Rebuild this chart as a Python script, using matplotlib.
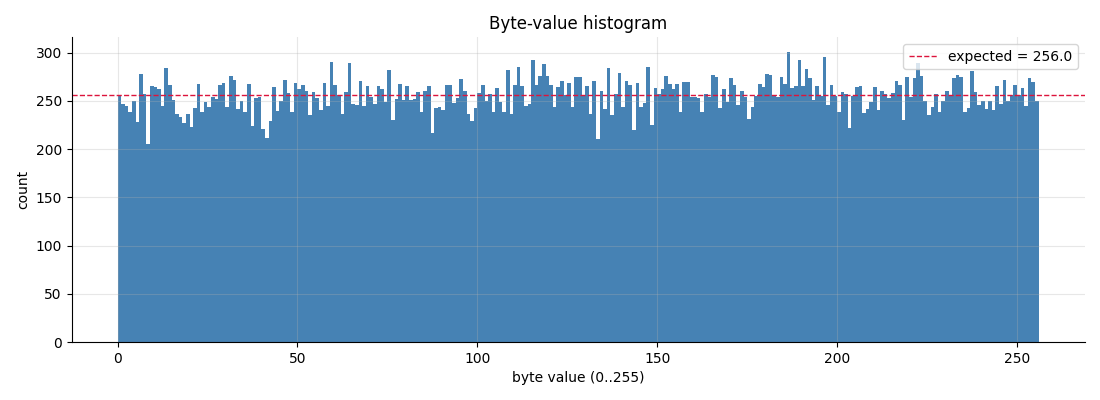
import matplotlib
matplotlib.use("Agg")
import matplotlib.pyplot as plt
import numpy as np

byte_values = list(range(256))
counts = [
    256,247,245,239,250,228,278,257,205,265,264,262,245,284,266,251,
    236,233,227,236,223,243,268,238,249,244,254,252,266,269,244,276,
    272,242,250,238,268,224,253,254,221,212,229,264,240,250,272,258,
    238,269,262,266,260,235,259,253,241,269,245,290,267,256,236,259,
    289,247,246,271,245,265,254,247,265,262,249,282,230,252,268,251,
    265,251,252,259,239,260,265,217,243,244,241,266,266,248,253,273,
    260,236,229,243,258,267,250,257,238,263,249,239,282,236,267,285,
    265,245,247,292,267,276,288,276,267,244,264,271,256,269,244,275,
    275,256,265,236,271,211,260,242,284,235,257,279,244,271,266,220,
    269,244,248,285,225,263,257,262,276,268,262,268,238,270,270,254,
    254,253,238,257,254,277,275,243,262,249,274,266,246,260,254,231,
    244,255,268,264,278,277,256,254,275,268,301,263,265,292,265,283,
    274,251,265,255,296,246,267,255,238,259,257,222,255,264,265,237,
    242,249,264,241,260,257,253,258,271,266,230,275,254,274,289,276,
    250,235,244,257,238,250,260,256,274,277,275,238,243,281,259,246,
    250,242,250,241,265,247,272,250,256,266,256,263,245,274,270,250,
]
expected = 256.0

fig, ax = plt.subplots(figsize=(11, 4), dpi=100)
fig.subplots_adjust(left=0.065, right=0.986, top=0.907, bottom=0.145)

ax.bar(byte_values, counts, width=1.0, align="edge", color="steelblue", linewidth=0)
ax.axhline(expected, color="crimson", linestyle="--", linewidth=1,
           label=f"expected = {expected:.1f}")

ax.set_title("Byte-value histogram")
ax.set_xlabel("byte value (0..255)")
ax.set_ylabel("count")
ax.grid(True, alpha=0.3)
ax.spines["top"].set_visible(False)
ax.spines["right"].set_visible(False)
ax.legend(loc="upper right")

fig.savefig("out.png", dpi=100)
